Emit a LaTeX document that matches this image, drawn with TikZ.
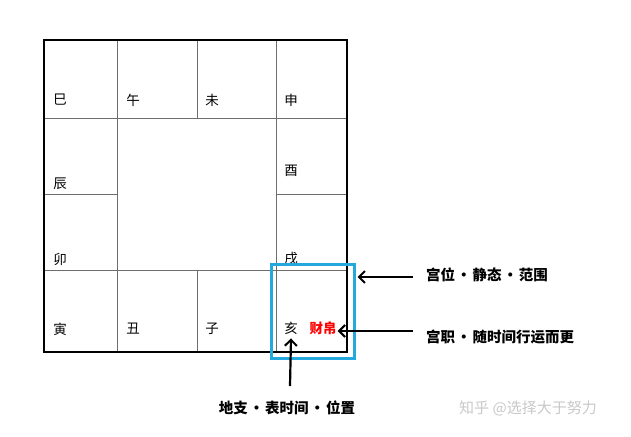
\documentclass[tikz,border=0pt]{standalone}
\usepackage{fontspec}
\newfontfamily\cjk{Noto Sans CJK SC}
\usetikzlibrary{arrows.meta}
\definecolor{boxblue}{RGB}{36,168,222}
\definecolor{gridgray}{RGB}{110,110,110}
\definecolor{wm}{RGB}{200,200,200}
\newcommand{\sepdot}{\makebox[1.2em]{·}}
\tikzset{
  grid/.style={draw=gridgray, line width=0.9pt},
  outer/.style={draw=black, line width=2.8pt},
  lab/.style={font=\cjk\fontsize{13.5}{15}\selectfont, inner sep=0pt, anchor=center},
  note/.style={font=\cjk\fontsize{14.5}{16}\selectfont\bfseries, inner sep=0pt, anchor=west},
  pointer/.style={draw=black, line width=2.2pt, -{Straight Barb[length=6pt,width=12pt,line width=2pt]}}
}
\begin{document}
\begin{tikzpicture}[x=1pt,y=-1pt]
\useasboundingbox (0,0) rectangle (631,436);
% inner grid lines
\draw[grid] (44,118) -- (347,118);
\draw[grid] (44,270) -- (347,270);
\draw[grid] (44,194) -- (117,194);
\draw[grid] (276,194) -- (347,194);
\draw[grid] (117,40) -- (117,352);
\draw[grid] (276,40) -- (276,352);
\draw[grid] (197,40) -- (197,118);
\draw[grid] (197,270) -- (197,352);
% outer frame
\draw[outer] (44,40) rectangle (347,352);
% branch labels
\node[lab] (si)   at (60,100) {巳};
\node[lab] (wu)   at (133,100) {午};
\node[lab] (wei)  at (212,100) {未};
\node[lab] (shen) at (291,100) {申};
\node[lab] (you)  at (291,171) {酉};
\node[lab] (chen) at (60,184) {辰};
\node[lab] (mao)  at (60,259) {卯};
\node[lab] (xu)   at (291,258) {戌};
\node[lab] (yin)  at (60,329) {寅};
\node[lab] (chou) at (133,329) {丑};
\node[lab] (zi)   at (212,329) {子};
\node[lab] (hai)  at (291,328) {亥};
\node[lab, text=red, font=\cjk\fontsize{13.5}{15}\selectfont\bfseries] (cai) at (323,328) {财帛};
% blue highlight box
\node[draw=boxblue, line width=3pt, minimum width=83pt, minimum height=94pt, inner sep=0pt] (hl) at (312.5,311) {};
% annotations
\node[note] (n1) at (426,275) {宫位\sepdot 静态\sepdot 范围};
\node[note] (n2) at (426,337) {宫职\sepdot 随时间行运而更};
\node[note, anchor=center] (n3) at (287,408) {地支\sepdot 表时间\sepdot 位置};
\coordinate (a1s) at (413,277);
\coordinate (a2s) at (413,331);
\coordinate (a3s) at (290,386);
\draw[pointer] (a1s) -- ([xshift=2pt]hl.east |- a1s);
\draw[pointer] (a2s) -- ([xshift=1pt]cai.east |- a2s);
\draw[pointer] (a3s) -- ([yshift=-4pt]hai.south);
% watermark
\node[font=\cjk\fontsize{15}{17}\selectfont, text=wm, inner sep=0pt] (wmk) at (528,408) {知乎 @选择大于努力};
\end{tikzpicture}
\end{document}
